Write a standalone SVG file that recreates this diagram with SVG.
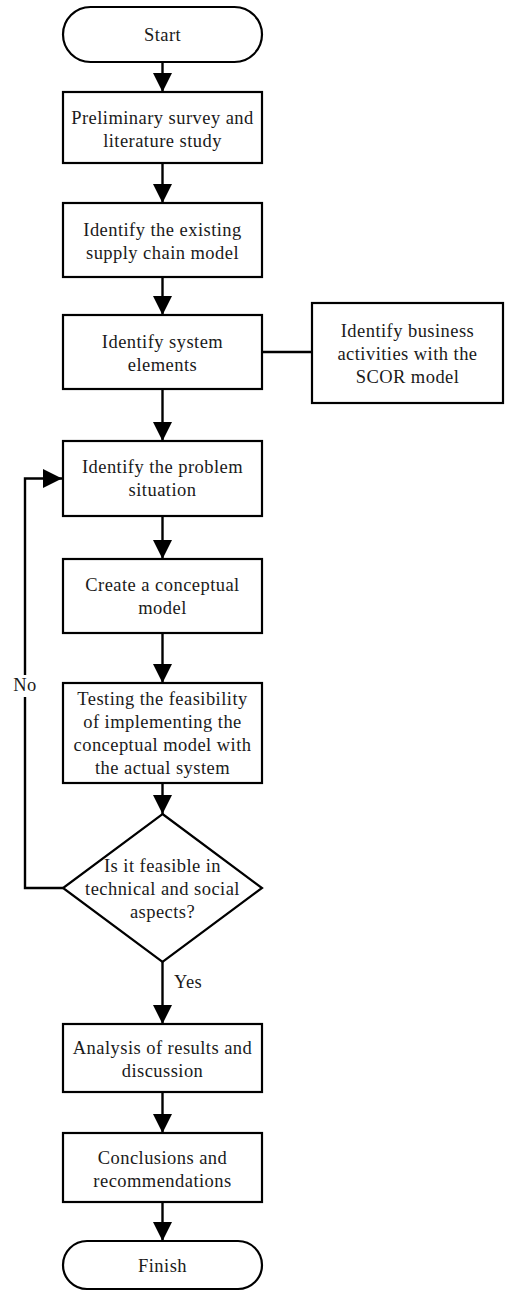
<svg xmlns="http://www.w3.org/2000/svg" width="505" height="1291" viewBox="0 0 505 1291">
<style>
.b{fill:#fff;stroke:#000;stroke-width:2.2}
.t{font-family:"Liberation Serif","Times New Roman",serif;font-size:18.5px;letter-spacing:0.45px;fill:#1a1a1a;text-anchor:middle}
.c{fill:none;stroke:#000;stroke-width:2.4}
</style>
<defs>
<marker id="ah" markerUnits="userSpaceOnUse" markerWidth="19" markerHeight="19" viewBox="0 0 19 19" refX="19" refY="9.5" orient="auto">
<path d="M0,0 L19,9.5 L0,19 Z" fill="#000"/>
</marker>
</defs>
<rect width="505" height="1291" fill="#fff"/>
<g id="connectors">
<line class="c" x1="162.5" y1="62" x2="162.5" y2="92" marker-end="url(#ah)"/>
<line class="c" x1="162.5" y1="163" x2="162.5" y2="203" marker-end="url(#ah)"/>
<line class="c" x1="162.5" y1="277" x2="162.5" y2="315" marker-end="url(#ah)"/>
<line class="c" x1="262" y1="352" x2="312" y2="352"/>
<line class="c" x1="162.5" y1="389" x2="162.5" y2="441" marker-end="url(#ah)"/>
<line class="c" x1="162.5" y1="516" x2="162.5" y2="559" marker-end="url(#ah)"/>
<line class="c" x1="162.5" y1="633" x2="162.5" y2="683" marker-end="url(#ah)"/>
<line class="c" x1="162.5" y1="783" x2="162.5" y2="814" marker-end="url(#ah)"/>
<polyline class="c" points="63,888 25,888 25,478.5 62,478.5" marker-end="url(#ah)"/>
<line class="c" x1="162.5" y1="962" x2="162.5" y2="1024" marker-end="url(#ah)"/>
<line class="c" x1="162.5" y1="1092" x2="162.5" y2="1133" marker-end="url(#ah)"/>
<line class="c" x1="162.5" y1="1202" x2="162.5" y2="1241" marker-end="url(#ah)"/>
<rect x="11" y="675" width="28" height="22" fill="#fff"/>
<text class="t" x="25" y="691">No</text>
<text class="t" x="174" y="988" style="text-anchor:start">Yes</text>
</g>
<g id="start">
<rect class="b" x="63" y="7" width="199" height="55" rx="27.5"/>
<text class="t" x="162.5" y="40.5">Start</text>
</g>
<g id="survey">
<rect class="b" x="63" y="92" width="199" height="71"/>
<text class="t" x="162.5" y="124">Preliminary survey and</text>
<text class="t" x="162.5" y="147">literature study</text>
</g>
<g id="existing">
<rect class="b" x="63" y="203" width="199" height="74"/>
<text class="t" x="162.5" y="236">Identify the existing</text>
<text class="t" x="162.5" y="259">supply chain model</text>
</g>
<g id="elements">
<rect class="b" x="63" y="315" width="199" height="74"/>
<text class="t" x="162.5" y="347.5">Identify system</text>
<text class="t" x="162.5" y="370.5">elements</text>
</g>
<g id="scor">
<rect class="b" x="312" y="303" width="191" height="100"/>
<text class="t" x="407.5" y="336.5">Identify business</text>
<text class="t" x="407.5" y="359.5">activities with the</text>
<text class="t" x="407.5" y="382.5">SCOR model</text>
</g>
<g id="problem">
<rect class="b" x="63" y="441" width="199" height="75"/>
<text class="t" x="162.5" y="473">Identify the problem</text>
<text class="t" x="162.5" y="496">situation</text>
</g>
<g id="conceptual">
<rect class="b" x="63" y="559" width="199" height="74"/>
<text class="t" x="162.5" y="590.5">Create a conceptual</text>
<text class="t" x="162.5" y="613.5">model</text>
</g>
<g id="testing">
<rect class="b" x="63" y="683" width="199" height="100"/>
<text class="t" x="162.5" y="705">Testing the feasibility</text>
<text class="t" x="162.5" y="728">of implementing the</text>
<text class="t" x="162.5" y="751">conceptual model with</text>
<text class="t" x="162.5" y="774">the actual system</text>
</g>
<g id="decision">
<polygon class="b" points="162.5,814 262,888 162.5,962 63,888"/>
<text class="t" x="162.5" y="872">Is it feasible in</text>
<text class="t" x="162.5" y="895">technical and social</text>
<text class="t" x="162.5" y="918">aspects?</text>
</g>
<g id="analysis">
<rect class="b" x="63" y="1024" width="199" height="68"/>
<text class="t" x="162.5" y="1054">Analysis of results and</text>
<text class="t" x="162.5" y="1077">discussion</text>
</g>
<g id="conclusions">
<rect class="b" x="63" y="1133" width="199" height="69"/>
<text class="t" x="162.5" y="1163.5">Conclusions and</text>
<text class="t" x="162.5" y="1186.5">recommendations</text>
</g>
<g id="finish">
<rect class="b" x="63" y="1241" width="199" height="48" rx="24"/>
<text class="t" x="162.5" y="1272">Finish</text>
</g>
</svg>
